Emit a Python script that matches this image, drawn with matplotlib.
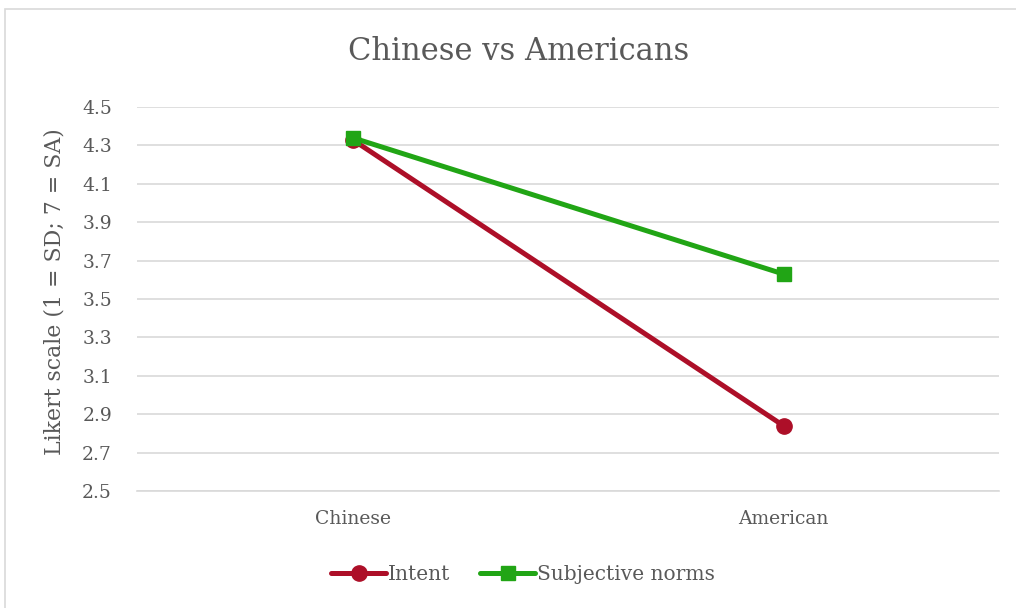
import matplotlib.pyplot as plt
from matplotlib.patches import Rectangle

# Daten
categories = ["Chinese", "American"]
intent = [4.33, 2.84]
subjective_norms = [4.34, 3.63]
y_ticks = [2.5, 2.7, 2.9, 3.1, 3.3, 3.5, 3.7, 3.9, 4.1, 4.3, 4.5]

plt.rcParams['font.family'] = ['DejaVu Serif']
text_col = "#595959"
grid_col = "#d9d9d9"

fig = plt.figure(figsize=(10.16, 6.08), dpi=100)
ax = fig.add_axes([137 / 1016, 1 - 491 / 608, (999 - 137) / 1016, (491 - 107) / 608])

x = list(range(len(categories)))
ax.plot(x, intent, color="#ad0f28", linewidth=3.6, marker="o", markersize=11,
        label="Intent", solid_capstyle="round")
ax.plot(x, subjective_norms, color="#21a515", linewidth=3.6, marker="s", markersize=10.5,
        label="Subjective norms", solid_capstyle="round")

ax.set_xlim(-0.5, 1.5)
ax.set_ylim(2.5, 4.5)
ax.set_xticks(x)
ax.set_xticklabels(categories)
ax.set_yticks(y_ticks)
ax.set_yticklabels([f"{v:.1f}" for v in y_ticks])
ax.tick_params(length=0, labelsize=13.5, colors=text_col, pad=18)
ax.tick_params(axis="x", pad=14)
ax.grid(axis="y", color=grid_col, linewidth=1.2)
ax.set_axisbelow(True)
for s in ["top", "right", "left"]:
    ax.spines[s].set_visible(False)
ax.spines["bottom"].set_color(grid_col)
ax.spines["bottom"].set_linewidth(1.2)

ax.set_ylabel("Likert scale (1 = SD; 7 = SA)", fontsize=15.8, color=text_col, labelpad=11)
ax.yaxis.set_label_coords(-0.083, 0.52)
fig.text(518.5 / 1016, 1 - 52 / 608, "Chinese vs Americans", ha="center", va="center",
         fontsize=22, color=text_col)

fig.legend(loc="center", bbox_to_anchor=(523 / 1016, 1 - 575 / 608), ncol=2, frameon=False,
           fontsize=14.5, labelcolor=text_col, handlelength=2.7, columnspacing=1.5,
           handletextpad=0.1)

# Rahmen
fig.patches.append(Rectangle((5 / 1016, -0.1), 1.2, 1 - 9.5 / 608 + 0.1,
                             transform=fig.transFigure, fill=False,
                             edgecolor="#d9d9d9", linewidth=1.2))

plt.savefig("out.png", dpi=100)
